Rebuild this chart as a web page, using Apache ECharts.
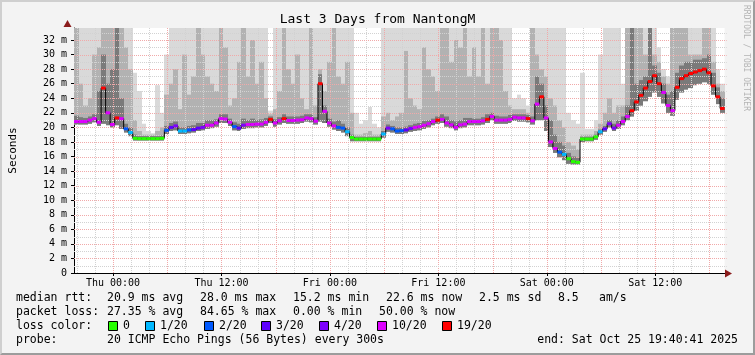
<!DOCTYPE html>
<html><head><meta charset="utf-8">
<script src="https://cdn.jsdelivr.net/npm/echarts@6/dist/echarts.min.js"></script>
<style>
html,body{margin:0;padding:0;background:#f3f3f3;}
#wrap{position:relative;width:755px;height:355px;overflow:hidden;}
#chart{position:absolute;left:0;top:0;width:755px;height:355px;}
#frame{position:absolute;left:0;top:0;width:755px;height:355px;box-sizing:border-box;border-top:2px solid #cfcfcf;border-left:2px solid #cfcfcf;border-right:2px solid #9c9c9c;border-bottom:2px solid #9c9c9c;pointer-events:none;}
</style></head>
<body><div id="wrap"><div id="chart"></div><div id="frame"></div></div>
<script>
// ---------- data (30-minute slots from Wed 19:40:41 to Sat 19:40:41) ----------
const slotHours = 0.5;
const titleText = 'Last 3 Days from NantongM';
const xTickHours = [4.3219, 16.3219, 28.3219, 40.3219, 52.3219, 64.3219];
const xTickLabels = ['Thu 00:00', 'Thu 12:00', 'Fri 00:00', 'Fri 12:00', 'Sat 00:00', 'Sat 12:00'];
const yTickValues = [0, 2, 4, 6, 8, 10, 12, 14, 16, 18, 20, 22, 24, 26, 28, 30, 32];
const yMax = 33.65;

const median = [
  20.8, 20.8, 20.8, 21.0, 21.2, 20.7, 25.4, 22.0, 20.4, 21.3,
  21.2, 19.8, 19.3, 18.5, 18.45, 18.45, 18.45, 18.45, 18.45, 18.5,
  19.6, 20.0, 20.2, 19.5, 19.5, 19.65, 19.7, 19.9, 20.0, 20.3,
  20.3, 20.6, 21.2, 21.15, 20.7, 20.1, 19.9, 20.3, 20.4, 20.4,
  20.45, 20.45, 20.7, 21.1, 20.6, 20.9, 21.2, 20.95, 20.95, 21.0,
  21.05, 21.3, 21.2, 20.85, 26.0, 22.2, 20.6, 20.2, 20.0, 19.9,
  19.4, 18.6, 18.4, 18.4, 18.4, 18.4, 18.4, 18.4, 19.1, 19.9,
  19.8, 19.5, 19.55, 19.65, 19.85, 20.0, 20.1, 20.3, 20.5, 20.8,
  21.0, 21.1, 20.6, 20.35, 20.0, 20.35, 20.45, 20.8, 20.8, 20.8,
  20.9, 21.1, 21.5, 21.0, 21.0, 21.0, 21.1, 21.4, 21.3, 21.3,
  21.2, 20.9, 23.2, 24.2, 21.3, 18.0, 17.1, 16.6, 16.3, 15.7,
  15.3, 15.2, 18.4, 18.4, 18.4, 18.7, 19.4, 19.8, 20.5, 19.9,
  20.3, 20.8, 21.5, 22.3, 23.5, 24.4, 25.4, 26.3, 27.1, 26.0,
  24.8, 23.0, 22.3, 25.5, 26.7, 27.1, 27.4, 27.6, 27.8, 28.0,
  27.5, 25.7, 24.2, 22.6
];
// index into lossColors
const loss = [
  5,5,5,5,5,5,6,5,5,6,
  5,2,1,0,0,0,0,0,0,0,
  2,3,4,1,1,2,3,3,4,5,
  5,5,5,5,5,2,3,4,5,5,
  5,5,5,6,5,5,6,5,5,5,
  5,5,5,5,6,5,5,5,2,2,
  1,0,0,0,0,0,0,0,1,4,
  2,2,2,3,4,5,5,5,5,5,
  6,5,5,5,5,5,5,5,5,5,
  5,6,5,5,5,5,5,5,5,5,
  6,5,5,6,5,5,5,2,1,0,
  0,0,0,0,0,0,1,3,4,4,
  5,5,5,6,6,6,6,6,6,6,
  5,5,5,6,6,6,6,6,6,6,
  6,6,6,6
];
const smokeMax = [
  34,34,34,34,34,34,34,34,34,34,
  34,34,34,27.5,25,20.5,19.5,19.2,25.8,22,
  30,34,34,34,34,34,34,34,34,34,
  34,34,34,34,34,34,34,34,34,34,
  34,34,34,22.3,34,34,34,34,34,34,
  34,34,34,34,34,34,34,34,34,34,
  34,34,22,20.5,21,22.8,20.5,20,34,34,
  34,34,34,34,34,34,34,34,34,34,
  34,34,34,34,34,34,34,34,34,34,
  34,34,34,34,34,34,34,24,24.5,24,
  23,34,34,34,34,34,34,34,34,22,
  21,20.5,27.5,19.8,19.8,21,30,34,34,34,
  34,26,34,34,34,34,34,34,34,31,
  28,27,34,34,34,34,34,34,34,34,
  34,34,28,26
];
const smokeMid = [
  34,26,23,24,30,31,34,34,34,34,
  34,31,28,21,19.5,19,19,19,19.5,20,
  24.5,26,28,22.5,30,24.5,27,34,30,27,
  26,25,34,31,23,24,29,34,27,32,
  26,29,24,21.8,22.5,25,34,28,26,30,
  24,22.5,34,23,28,25,29,34,27,26,
  29,22,19,19,19.2,19.5,19,19,21.5,22,
  21,21.5,22,30.5,24,23,22.5,31,28,27,
  25,34,34,29,32,31,34,27,31,27,
  34,26,34,34,32,25,23,22.5,22.5,22.5,
  22,34,30,28,27,24,23,21,20,18,
  17.5,17,19,19,19,19.5,20.5,22,24,22,
  23,23,34,34,34,34,30,34,30,29,
  27,26,34,34,34,34,30,30,30,34,
  34,29,26,25
];
const smokeDark = [
  21.6,21.4,21.3,21.5,21.8,25,30,26,28,34,
  24,20.5,20,19,18.8,18.8,18.8,18.8,18.8,18.9,
  20.2,20.6,20.8,20,20,20.2,20.3,20.6,20.6,21,
  21,21.1,21.8,21.8,21.2,20.7,20.5,21.2,21,21.2,
  21,21.1,21.3,21.5,21.1,21.4,21.8,21.5,21.5,21.5,
  21.6,21.8,21.8,21.4,27.3,23,21.2,20.8,21,20.5,
  20,19,18.7,18.7,18.7,18.7,18.7,18.7,19.5,20.4,
  20.2,20,20,20.1,20.3,20.5,20.6,20.9,21,21.2,
  21.5,21.8,21.5,21,20.8,21,21.3,21.3,21.2,21.2,
  21.4,21.8,22,21.6,21.5,21.5,21.7,21.8,21.8,21.8,
  21.7,21.5,27,26,23,21,19,18,17.5,16.5,
  16,15.8,18.7,18.7,18.7,19,19.7,20.2,21,20.5,
  21,21.5,23,34,26,26.5,27,34,28.5,27.5,
  26,24.5,25,27.5,28.5,29,29,29.3,29.3,29.5,
  30,27.5,25.5,24
];
const smokeMin = [
  20.4,20.4,20.4,20.5,20.7,20.2,20.5,20.3,20.0,20.3,
  19.8,19.3,18.8,18.2,18.2,18.2,18.2,18.2,18.2,18.2,
  19.1,19.5,19.6,19.1,19.1,19.2,19.3,19.5,19.6,19.8,
  19.9,20.1,20.6,20.6,20.2,19.6,19.5,19.8,19.9,19.9,
  20.0,20.0,20.2,20.6,20.1,20.4,20.6,20.5,20.5,20.5,
  20.6,20.8,20.7,20.4,20.8,20.6,20.1,19.7,19.5,19.3,
  18.8,18.1,18.1,18.1,18.1,18.1,18.1,18.1,18.6,19.4,
  19.3,19.1,19.1,19.2,19.4,19.5,19.6,19.8,20.0,20.3,
  20.5,20.6,20.1,19.9,19.6,19.9,20.0,20.3,20.3,20.3,
  20.4,20.6,21.0,20.5,20.5,20.5,20.6,20.9,20.8,20.8,
  20.7,20.4,21.0,21.0,19.5,17.3,16.5,15.9,15.5,15.0,
  14.9,14.9,18.0,18.1,18.1,18.3,19.0,19.4,20.0,19.5,
  19.8,20.3,21.0,21.5,22.3,23.0,23.6,24.2,24.8,24.2,
  23.3,22.0,21.6,23.8,24.8,25.2,25.4,25.8,26.0,26.2,
  26.0,24.5,23.2,22.0
];

const lossLabels = ['0', '1/20', '2/20', '3/20', '4/20', '10/20', '19/20'];
const lossColors = ['#26ff00', '#00b8ff', '#0059ff', '#5e00ff', '#7e00ff', '#dd00ff', '#ff0000'];
const rttStats = ['20.9 ms avg', '28.0 ms max', '15.2 ms min', '22.6 ms now', '2.5 ms sd', '8.5', 'am/s'];
const lossStats = ['27.35 % avg', '84.65 % max', '0.00 % min', '50.00 % now'];
const probeText = '20 ICMP Echo Pings (56 Bytes) every 300s';
const endText = 'end: Sat Oct 25 19:40:41 2025';

// ---------- styling ----------
const MONO = '"DejaVu Sans Mono", "Liberation Mono", monospace';
const totalHours = median.length * slotHours;
const firstGridHour = 20 - (19 + 40 / 60 + 41 / 3600); // Wed 20:00
const LIGHT = '#d9d9d9', MID = '#b2b2b2', DARK = '#7a7a7a';
const MINOR = '#d2d2d2', MAJOR = '#f1a9a9';

const smokeData = median.map((_, i) => [i * slotHours, (i + 1) * slotHours, smokeMin[i], smokeDark[i], smokeMid[i], smokeMax[i]]);
const lineData = median.map((v, i) => [i * slotHours + slotHours / 2, v]);
const segData = median.map((v, i) => [i * slotHours, (i + 1) * slotHours, v, loss[i]]);
const vGridData = [];
for (let k = 0; firstGridHour + 2 * k < totalHours; k++) vGridData.push([firstGridHour + 2 * k, (k + 1) % 3 === 0 ? 1 : 0]);
const hGridData = [];
for (let v = 1; v < yMax; v++) hGridData.push([0, v, v % 2 === 0 ? 1 : 0]);

function clampY(v) { return Math.min(v, yMax); }

function renderSmoke(params, api) {
  const x0 = api.value(0), x1 = api.value(1), lo = api.value(2);
  const tops = [[api.value(5), LIGHT], [api.value(4), MID], [api.value(3), DARK]];
  const bl = api.coord([x0, lo]), br = api.coord([x1, lo]);
  const xa = Math.round(bl[0]), xb = Math.round(br[0]);
  const children = tops.map(([t, c]) => {
    const p = api.coord([x0, clampY(t)]);
    return { type: 'rect', shape: { x: xa, y: p[1], width: xb - xa, height: bl[1] - p[1] }, style: { fill: c } };
  });
  return { type: 'group', children };
}
function renderVGrid(params, api) {
  const cs = params.coordSys;
  const px = Math.round(api.coord([api.value(0), 0])[0]) + 0.5;
  return { type: 'line', shape: { x1: px, y1: cs.y, x2: px, y2: cs.y + cs.height },
    style: { stroke: api.value(1) ? MAJOR : MINOR, lineWidth: 1, lineDash: [1, 1] } };
}
function renderHGrid(params, api) {
  const cs = params.coordSys;
  const py = Math.round(api.coord([0, api.value(1)])[1]) + 0.5;
  return { type: 'line', shape: { x1: cs.x, y1: py, x2: cs.x + cs.width + 2, y2: py },
    style: { stroke: api.value(2) ? MAJOR : MINOR, lineWidth: 1, lineDash: [1, 1] } };
}
function renderSeg(params, api) {
  const a = api.coord([api.value(0), api.value(2)]);
  const b = api.coord([api.value(1), api.value(2)]);
  return { type: 'line', shape: { x1: a[0], y1: a[1], x2: b[0], y2: b[1] },
    style: { stroke: lossColors[api.value(3)], lineWidth: 3 } };
}

function txt(x, y, s, opts) {
  return Object.assign({ type: 'text', x: x, y: y, silent: true,
    style: Object.assign({ text: s, font: '11.5px ' + MONO, fill: '#000', textAlign: 'left', textVerticalAlign: 'middle', align: 'left', verticalAlign: 'middle' }, opts || {}) });
}

const graphics = [];
graphics.push(txt(377.5, 20, titleText, { font: '13px ' + MONO, textAlign: 'center', align: 'center' }));
graphics.push({ type: 'text', x: 746, y: 5, rotation: -Math.PI / 2, silent: true,
  style: { text: 'RRDTOOL / TOBI OETIKER', font: '8px ' + MONO, fill: '#b4b4b4', textAlign: 'left', align: 'left', textVerticalAlign: 'middle', verticalAlign: 'middle' } });
// axis arrows
graphics.push({ type: 'polygon', silent: true, shape: { points: [[725, 269.5], [732, 273.5], [725, 277.5]] }, style: { fill: '#8b1c1c' } });
graphics.push({ type: 'polygon', silent: true, shape: { points: [[63.5, 27], [67.5, 20], [71.5, 27]] }, style: { fill: '#8b1c1c' } });
// legend rows
const colX = [107, 200, 293, 386, 479, 558, 599];
graphics.push(txt(16, 298.5, 'median rtt:'));
rttStats.forEach((s, i) => graphics.push(txt(colX[i], 298.5, s)));
graphics.push(txt(16, 312, 'packet loss:'));
const lossX = [107, 200, 293, 379];
lossStats.forEach((s, i) => graphics.push(txt(lossX[i], 312, s)));
graphics.push(txt(16, 326, 'loss color:'));
const boxX = [108, 145, 204, 261, 319, 377, 442];
lossLabels.forEach((s, i) => {
  graphics.push({ type: 'rect', silent: true, shape: { x: boxX[i] + 0.5, y: 321.5, width: 9, height: 9 }, style: { fill: lossColors[i], stroke: '#000', lineWidth: 1 } });
  graphics.push(txt(boxX[i] + 15, 326, s));
});
graphics.push(txt(16, 340.5, 'probe:'));
graphics.push(txt(107, 340.5, probeText));
graphics.push(txt(738, 340.5, endText, { textAlign: 'right', align: 'right' }));

const chart = echarts.init(document.getElementById('chart'), null, { renderer: 'canvas' });
chart.setOption({
  animation: false,
  backgroundColor: '#f3f3f3',
  grid: { left: 67, top: 28, right: 30.4, bottom: 82, show: true, backgroundColor: '#ffffff', borderWidth: 0 },
  xAxis: {
    type: 'value', min: 0, max: totalHours,
    axisLine: { show: true, lineStyle: { color: '#000', width: 1 } },
    axisTick: { show: true, customValues: xTickHours, length: 3, lineStyle: { color: '#000' } },
    axisLabel: { customValues: xTickHours, margin: 5, color: '#000', fontFamily: MONO, fontSize: 10,
      formatter: v => { const i = xTickHours.findIndex(h => Math.abs(h - v) < 1e-6); return i >= 0 ? xTickLabels[i] : ''; } },
    splitLine: { show: false }
  },
  yAxis: {
    type: 'value', min: 0, max: yMax,
    name: 'Seconds', nameLocation: 'middle', nameGap: 55, nameRotate: 90,
    nameTextStyle: { fontFamily: MONO, fontSize: 11, color: '#000' },
    axisLine: { show: true, lineStyle: { color: '#000', width: 1 } },
    axisTick: { show: true, customValues: yTickValues, length: 3, lineStyle: { color: '#000' } },
    axisLabel: { customValues: yTickValues, margin: 7, color: '#000', fontFamily: MONO, fontSize: 10,
      formatter: v => v === 0 ? '0' : v + ' m' },
    splitLine: { show: false }
  },
  graphic: graphics,
  series: [
    { type: 'custom', name: 'smoke', silent: true, z: 1, renderItem: renderSmoke, data: smokeData, encode: { x: [0, 1], y: [2, 5] } },
    { type: 'custom', name: 'vgrid', silent: true, z: 2, renderItem: renderVGrid, data: vGridData, encode: { x: 0 } },
    { type: 'custom', name: 'hgrid', silent: true, z: 2, renderItem: renderHGrid, data: hGridData, encode: { x: 0, y: 1 } },
    { type: 'line', name: 'median', silent: true, z: 3, step: 'middle', symbol: 'none', data: lineData,
      lineStyle: { color: '#000', width: 1 } },
    { type: 'custom', name: 'loss', silent: true, z: 4, renderItem: renderSeg, data: segData, encode: { x: [0, 1], y: 2 } }
  ]
});
</script></body></html>
